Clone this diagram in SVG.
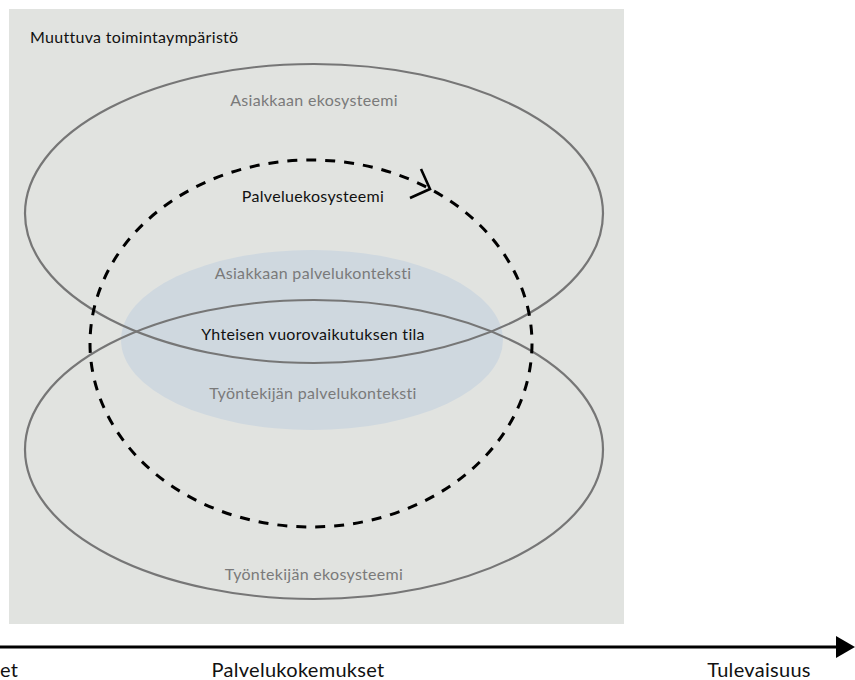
<svg xmlns="http://www.w3.org/2000/svg" width="855" height="680" viewBox="0 0 855 680">
  <defs>
    <style>
      text { font-family: Lato, "Liberation Sans", sans-serif; letter-spacing: 0.3px; }
      .dark { fill: #111111; font-size: 16px; }
      .soft { fill: #7a7a7a; font-size: 16px; }
      .axis { fill: #111111; font-size: 20px; }
      .eco { fill: none; stroke: #767676; stroke-width: 2.2; }
    </style>
  </defs>

  <!-- changing operating environment -->
  <g id="environment">
    <rect x="9" y="9" width="615" height="615" fill="#e1e3e0"/>
    <text class="dark" x="30" y="43">Muuttuva toimintaympäristö</text>
  </g>

  <!-- shared service contexts -->
  <g id="service-context">
    <ellipse cx="312" cy="340" rx="191" ry="90" fill="#cfd8df"/>
  </g>

  <g id="customer-ecosystem">
    <ellipse class="eco" cx="314" cy="213.5" rx="289" ry="149.5"/>
    <text class="soft" x="314" y="106" text-anchor="middle">Asiakkaan ekosysteemi</text>
  </g>

  <g id="employee-ecosystem">
    <ellipse class="eco" cx="314" cy="449.5" rx="289" ry="149.5"/>
    <text class="soft" x="314" y="580" text-anchor="middle">Työntekijän ekosysteemi</text>
  </g>

  <g id="context-labels">
    <text class="soft" x="313" y="279" text-anchor="middle">Asiakkaan palvelukonteksti</text>
    <text class="dark" x="313" y="340" text-anchor="middle">Yhteisen vuorovaikutuksen tila</text>
    <text class="soft" x="313" y="399" text-anchor="middle">Työntekijän palvelukonteksti</text>
  </g>

  <!-- service ecosystem cycle -->
  <g id="connectors">
    <ellipse cx="311" cy="343.5" rx="221" ry="183.5" fill="none" stroke="#000" stroke-width="3" stroke-dasharray="10 9"/>
    <polyline points="421,169 430,189 410,198" fill="none" stroke="#000" stroke-width="2.6" stroke-linejoin="miter"/>
    <line x1="0" y1="647" x2="838" y2="647" stroke="#000" stroke-width="3"/>
    <polygon points="836,636 855,647 836,658" fill="#000"/>
  </g>

  <g id="service-ecosystem">
    <text class="dark" x="313" y="202" text-anchor="middle">Palveluekosysteemi</text>
  </g>

  <g id="timeline">
    <text class="axis" x="0" y="677">et</text>
    <text class="axis" x="298" y="677" text-anchor="middle">Palvelukokemukset</text>
    <text class="axis" x="759" y="677" text-anchor="middle">Tulevaisuus</text>
  </g>
</svg>
